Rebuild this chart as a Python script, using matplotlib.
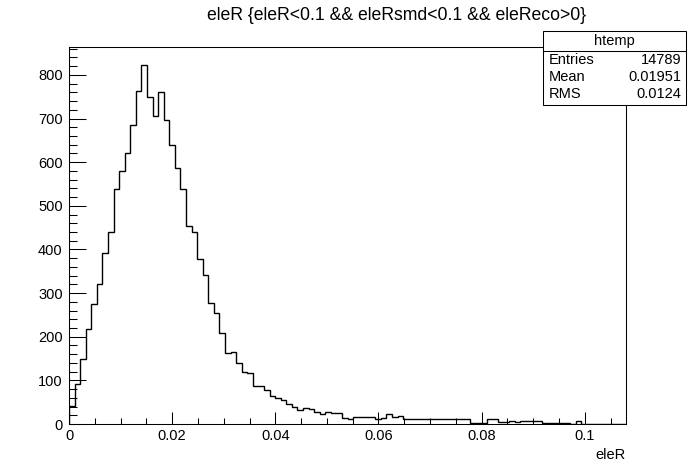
import numpy as np
import matplotlib
matplotlib.use('Agg')
import matplotlib.pyplot as plt
from matplotlib.patches import Rectangle
from matplotlib.lines import Line2D
from matplotlib.ticker import MultipleLocator

plt.rcParams['font.family'] = ['Liberation Sans', 'DejaVu Sans']

# histogram "htemp" of eleR, 100 bins from 0 to 0.108
x_min = 0.0
x_max = 0.108
counts = [41, 92, 148, 218, 276, 321, 393, 440, 538, 580,
          622, 685, 763, 822, 750, 707, 760, 697, 639, 586,
          538, 453, 440, 379, 341, 277, 255, 209, 163, 165,
          140, 119, 116, 88, 88, 77, 65, 60, 55, 46,
          40, 32, 36, 34, 27, 22, 28, 25, 25, 14,
          11, 15, 15, 15, 15, 12, 13, 24, 17, 18,
          12, 12, 12, 12, 12, 11, 11, 11, 11, 11,
          12, 12, 2, 2, 2, 11, 11, 5, 5, 6,
          5, 6, 8, 6, 6, 3, 3, 3, 3, 3,
          1, 6, 0, 0, 0, 0, 0, 0, 0, 0]

title = 'eleR {eleR<0.1 && eleRsmd<0.1 && eleReco>0}'
x_title = 'eleR'
stat_name = 'htemp'
stat_labels = ['Entries', 'Mean', 'RMS']
stat_values = ['14789', '0.01951', '0.0124']

W, H = 696, 472


def fx(px):
    return px / W


def fy(py):
    return 1 - py / H


fig = plt.figure(figsize=(W / 100, H / 100), dpi=100)
ax = fig.add_axes([fx(69), fy(424), (626 - 69) / W, (424 - 47) / H])

edges = np.linspace(x_min, x_max, len(counts) + 1)
ax.stairs(counts, edges, color='black', lw=1.0, baseline=0)

ax.set_xlim(x_min, x_max)
ax.set_ylim(0, 864)

ax.xaxis.set_major_locator(MultipleLocator(0.02))
ax.xaxis.set_minor_locator(MultipleLocator(0.005))
ax.yaxis.set_major_locator(MultipleLocator(100))
ax.yaxis.set_minor_locator(MultipleLocator(20))
ax.xaxis.set_major_formatter(plt.FuncFormatter(lambda v, p: ('%g' % round(v, 4))))

ax.tick_params(axis='x', which='major', direction='in', length=8.6, width=0.75,
               labelsize=10.5, pad=3.5, top=False)
ax.tick_params(axis='x', which='minor', direction='in', length=4.3, width=0.75, top=False)
ax.tick_params(axis='y', which='major', direction='in', length=12, width=0.75,
               labelsize=10.5, pad=4.5, right=False)
ax.tick_params(axis='y', which='minor', direction='in', length=6, width=0.75, right=False)
for s in ax.spines.values():
    s.set_linewidth(0.75)

fig.text(fx(397), fy(15), title, ha='center', va='center', fontsize=12.7)
fig.text(fx(626), fy(455), x_title, ha='right', va='center', fontsize=10.5)

# stats box
bx0, bx1, by0, by1, bsep = 543, 686, 31, 105, 51
fig.patches.append(Rectangle((fx(bx0), fy(by1)), (bx1 - bx0) / W, (by1 - by0) / H,
                             transform=fig.transFigure, facecolor='white',
                             edgecolor='black', lw=0.75, zorder=5))
fig.lines.append(Line2D([fx(bx0), fx(bx1)], [fy(bsep), fy(bsep)],
                        transform=fig.transFigure, color='black', lw=0.75, zorder=6))
fig.text(fx((bx0 + bx1) / 2), fy(41), stat_name, ha='center', va='center',
         fontsize=10.5, zorder=7)
for i, (lab, val) in enumerate(zip(stat_labels, stat_values)):
    yy = fy(60 + i * 17)
    fig.text(fx(549), yy, lab, ha='left', va='center', fontsize=10.5, zorder=7)
    fig.text(fx(681), yy, val, ha='right', va='center', fontsize=10.5, zorder=7)

fig.savefig('out.png', dpi=100)
